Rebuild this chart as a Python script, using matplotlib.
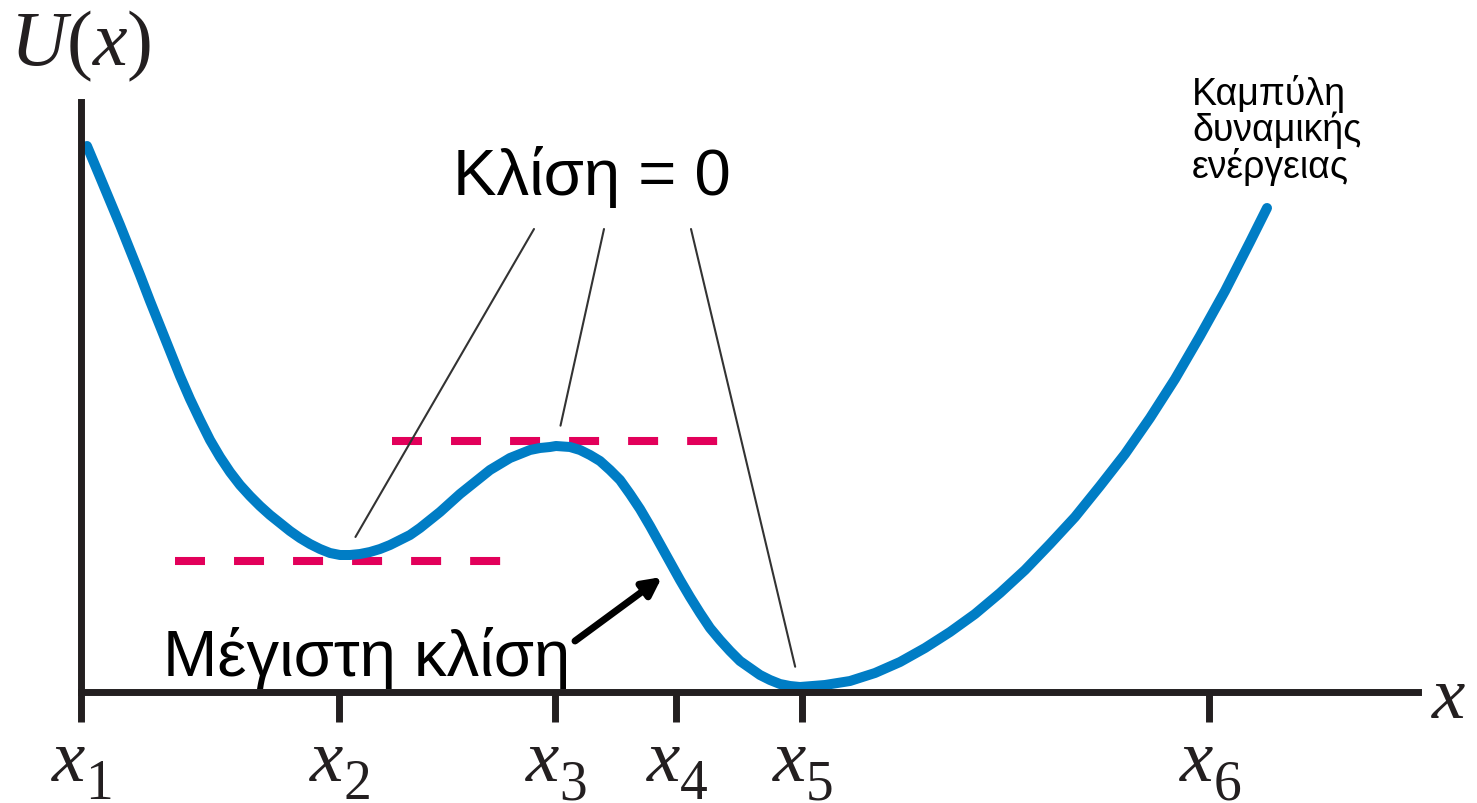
import matplotlib.pyplot as plt

plt.rcParams['font.family'] = ['Liberation Sans', 'DejaVu Sans']
plt.rcParams['mathtext.fontset'] = 'custom'
plt.rcParams['mathtext.it'] = 'Liberation Serif:italic'
plt.rcParams['mathtext.rm'] = 'Liberation Serif'
plt.rcParams['lines.scale_dashes'] = False

# potential energy curve U(x), arbitrary units
x = [0.06, 0.19, 0.29, 0.39, 0.49, 0.59, 0.69, 0.79, 0.89, 0.99, 1.09, 1.19,
     1.29, 1.39, 1.49, 1.59, 1.69, 1.79, 1.89, 1.99, 2.09, 2.19, 2.29, 2.39,
     2.49, 2.59, 2.69, 2.79, 2.89, 2.99, 3.09, 3.19, 3.29, 3.39, 3.49, 3.59,
     3.69, 3.79, 3.89, 3.99, 4.09, 4.19, 4.29, 4.39, 4.49, 4.59, 4.69, 4.75,
     4.89, 4.99, 5.09, 5.19, 5.29, 5.39, 5.49, 5.59, 5.69, 5.79, 5.89, 5.99,
     6.09, 6.19, 6.29, 6.39, 6.49, 6.59, 6.69, 6.79, 6.89, 6.99, 7.09, 7.19,
     7.44, 7.69, 7.94, 8.19, 8.44, 8.69, 8.94, 9.19, 9.44, 9.69, 9.94, 10.19,
     10.44, 10.69, 10.94, 11.19, 11.44, 11.69, 11.86]
U = [5.46, 5.15, 4.91, 4.67, 4.42, 4.17, 3.91, 3.66, 3.41, 3.16, 2.93, 2.72,
     2.52, 2.35, 2.20, 2.07, 1.96, 1.86, 1.77, 1.69, 1.61, 1.54, 1.48, 1.43,
     1.39, 1.37, 1.37, 1.38, 1.40, 1.43, 1.47, 1.52, 1.57, 1.64, 1.72, 1.80,
     1.89, 1.98, 2.06, 2.14, 2.22, 2.28, 2.34, 2.38, 2.42, 2.44, 2.45, 2.46,
     2.45, 2.42, 2.37, 2.31, 2.22, 2.12, 1.98, 1.83, 1.66, 1.48, 1.30, 1.12,
     0.95, 0.79, 0.64, 0.52, 0.41, 0.31, 0.24, 0.17, 0.12, 0.08, 0.06, 0.05,
     0.07, 0.11, 0.19, 0.30, 0.44, 0.60, 0.78, 0.99, 1.22, 1.48, 1.75, 2.06,
     2.38, 2.74, 3.13, 3.56, 4.01, 4.50, 4.84]

# marked positions on the x axis and their subscripts
tick_pos = [0.0, 2.58, 4.74, 5.95, 7.21, 11.28]
tick_sub = ['1', '2', '3', '4', '5', '6']

# points where the slope is zero (local min, local max, lowest min)
stat_x = [2.64, 4.75, 7.19]
stat_U = [1.37, 2.46, 0.05]

# dashed tangents through the local min and max
tangent_U = [1.31, 2.51]
tangent_from = [0.94, 3.11]
tangent_to = [4.21, 6.40]

blue = '#007DC5'
red = '#E2005A'
ink = '#231F20'
serif = 'Liberation Serif'

fig = plt.figure(figsize=(14.77, 8.04), dpi=100)
ax = fig.add_axes([0, 0, 1, 1])
ax.set_xlim(-0.81, 13.96)
ax.set_ylim(-1.11, 6.93)
ax.patch.set_visible(False)

# axes drawn as two black lines through the origin
for side in ['top', 'right']:
    ax.spines[side].set_visible(False)
ax.spines['left'].set_position(('data', 0))
ax.spines['bottom'].set_position(('data', 0))
ax.spines['left'].set_bounds(0, 5.90)
ax.spines['bottom'].set_bounds(0, 13.37)
for side in ['left', 'bottom']:
    ax.spines[side].set_linewidth(5)
    ax.spines[side].set_color(ink)
    ax.spines[side].set_capstyle('projecting')

ax.set_yticks([])
ax.set_xticks(tick_pos)
ax.set_xticklabels([])
ax.tick_params(axis='x', direction='out', length=21.6, width=5, color=ink)

# tick labels: italic x with a roman subscript
for pos, sub in zip(tick_pos, tick_sub):
    ax.annotate('x', xy=(pos, 0), xytext=(3, -63.5), textcoords='offset points',
                fontsize=54, family=serif, style='italic', color=ink,
                ha='right', va='baseline')
    ax.annotate(sub, xy=(pos, 0), xytext=(3, -76.5), textcoords='offset points',
                fontsize=40, family=serif, color=ink, ha='left', va='baseline')

# tangent lines (slope = 0)
ax.hlines(tangent_U, tangent_from, tangent_to, colors=red, linewidth=5.8,
          linestyles=[(0, (21.6, 20.9))])

# the curve itself
ax.plot(x, U, color=blue, lw=7.2, solid_capstyle='round', solid_joinstyle='round')

# leader lines from the label to the three flat points
leader_starts = [(4.53, 4.63), (5.23, 4.63), (6.10, 4.63)]
for (sx, sy), tx, tu in zip(leader_starts, stat_x, stat_U):
    ax.annotate('', xy=(tx, tu), xytext=(sx, sy),
                arrowprops=dict(arrowstyle='-', color='#333333', lw=1.5,
                                shrinkA=0, shrinkB=15))

ax.text(3.72, 4.98, 'Κλίση = 0', fontsize=47, va='baseline')

# steepest part of the curve
ax.annotate('', xy=(5.81, 1.15), xytext=(4.94, 0.51),
            arrowprops=dict(arrowstyle='-|>,head_length=0.55,head_width=0.28',
                            mutation_scale=20, lw=5, color='black',
                            shrinkA=0, shrinkB=0))
ax.text(0.82, 0.17, 'Μέγιστη κλίση', fontsize=47, va='baseline')

ax.text(11.11, 6.18, 'Καμπύλη\nδυναμικής\nενέργειας', fontsize=27,
        va='top', linespacing=0.95)

ax.text(-0.71, 6.28, r'$U(x)$', fontsize=56, va='baseline', color=ink)
ax.text(13.51, -0.25, 'x', fontsize=54, family=serif, style='italic',
        va='baseline', color=ink)

fig.savefig('out.png', dpi=100)
